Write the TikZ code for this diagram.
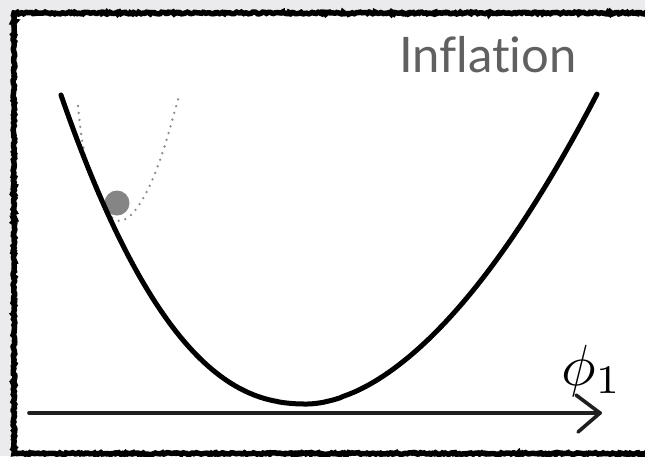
\documentclass[tikz,border=0pt]{standalone}
\usepackage{fontspec}
\newfontfamily\titlefont[Ligatures={NoCommon,NoContextual}]{Lato}
\usetikzlibrary{decorations.pathmorphing}
\definecolor{outer}{HTML}{EBEBEE}
\definecolor{titlegray}{HTML}{606060}
\definecolor{ballgray}{HTML}{858585}
\tikzset{
  potential/.style={line width=5pt, line cap=round, line join=round, black},
  axisline/.style={line width=3.6pt, line cap=round, line join=round, black!88},
  dotcurve/.style={line width=2.6pt, line cap=round, black!45, dash pattern=on 0pt off 7pt},
  roughframe/.style={line width=5.5pt, black, decorate, decoration={random steps, segment length=1.6pt, amplitude=0.9pt}},
}
\begin{document}
\begin{tikzpicture}[x=1pt,y=-1pt]
\useasboundingbox (0,0) rectangle (645,456);
\fill[outer] (0,0) rectangle (645,456);
\fill[white] (14,13) rectangle (645,456);
\begin{scope}
\clip (0,0) rectangle (645,456);
\draw[roughframe] (14,13) rectangle (720,453.5);
\end{scope}

% dotted small potential
\draw[dotcurve] plot[smooth] coordinates {(78,106) (82,140) (89,172) (99,198) (109,215) (120,221) (131,215) (141,202) (151,183) (160,160) (168,135) (179,96)};
% ball
\fill[ballgray] (117,203) circle (12.5);

% main potential
\draw[potential] plot[domain=246:0.5, samples=90] ({307-\x}, {404-309*pow(\x/246,2.3)})
  -- plot[domain=0.5:290, samples=90] ({307+\x}, {404-310*pow(\x/290,1.8)});

% axis
\coordinate (axL) at (29,413);
\coordinate (axR) at (600,413);
\coordinate (tipT) at (576,395);
\coordinate (tipB) at (578,432);
\draw[axisline] (axL) -- (axR);
\draw[axisline] (tipT) -- (axR) -- (tipB);

\node[anchor=base west, inner sep=0pt] (phi) at (561,385) {\scalebox{5.8}{$\phi_1$}};
\node[anchor=base west, inner sep=0pt, text=titlegray, font=\titlefont\fontsize{49}{58}\selectfont] (title) at (399,72) {Inflation};
\end{tikzpicture}
\end{document}
